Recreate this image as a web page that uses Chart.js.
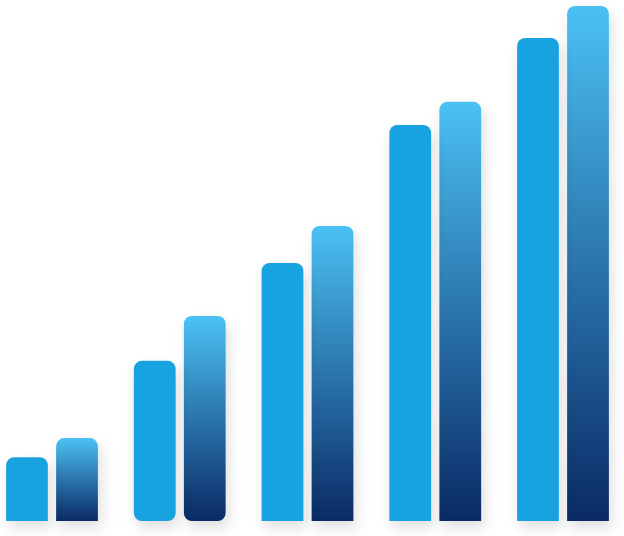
<!DOCTYPE html>
<html>
<head>
<meta charset="utf-8">
<script src="https://cdn.jsdelivr.net/npm/chart.js@4"></script>
<style>
  html, body { margin: 0; padding: 0; background: #fff; }
  #wrap { width: 624px; height: 536px; }
</style>
</head>
<body>
<div id="wrap"><canvas id="myChart"></canvas></div>
<script>
// the data
const labels = ['1', '2', '3', '4', '5']
const seriesA = [12.4, 31.1, 50.1, 76.9, 93.8]
const seriesB = [16.1, 39.8, 57.3, 81.4, 100]

const solidBlue = '#18a3e0'
const gradTop = '#4bc1f3'
const gradBottom = '#0a2a66'

// per bar gradient, from top of the bar down to the base
function barGradient(context) {
    const chart = context.chart
    const y = chart.scales.y
    if (!y || context.type !== 'data') return gradTop
    const top = y.getPixelForValue(context.raw)
    const base = y.getPixelForValue(0)
    if (!isFinite(top) || !isFinite(base) || top === base) return gradTop
    const g = chart.ctx.createLinearGradient(0, top, 0, base)
    g.addColorStop(0, gradTop)
    g.addColorStop(1, gradBottom)
    return g
}

// group 2 has rounded bottoms too
function radius(context) {
    if (context.dataIndex === 1) return 8
    return { topLeft: 8, topRight: 8, bottomLeft: 0, bottomRight: 0 }
}
function skipped(context) {
    return context.dataIndex === 1 ? false : 'start'
}

const shadowPlugin = {
    id: 'shadow',
    beforeDatasetsDraw(chart) {
        const ctx = chart.ctx
        ctx.save()
        ctx.shadowColor = 'rgba(0, 0, 0, 0.13)'
        ctx.shadowBlur = 14
        ctx.shadowOffsetX = 3
        ctx.shadowOffsetY = 7
    },
    afterDatasetsDraw(chart) {
        chart.ctx.restore()
    }
}

const ctx = document.querySelector('#myChart').getContext('2d')

let chart = new Chart(ctx, {
    type: 'bar',
    data: {
        labels: labels,
        datasets: [{
            data: seriesA,
            backgroundColor: solidBlue,
            borderRadius: radius,
            borderSkipped: skipped,
            clip: false
        }, {
            data: seriesB,
            backgroundColor: barGradient,
            borderRadius: radius,
            borderSkipped: skipped,
            clip: false
        }]
    },
    options: {
        responsive: true,
        maintainAspectRatio: false,
        animation: false,
        devicePixelRatio: 1,
        categoryPercentage: 0.783,
        barPercentage: 0.835,
        layout: { padding: { left: 52, right: 61, top: 6, bottom: 15 } },
        plugins: {
            legend: { display: false },
            tooltip: { enabled: false }
        },
        scales: {
            x: { display: false, offset: false },
            y: { display: false, min: 0, max: 100 }
        }
    },
    plugins: [shadowPlugin]
})
</script>
</body>
</html>
